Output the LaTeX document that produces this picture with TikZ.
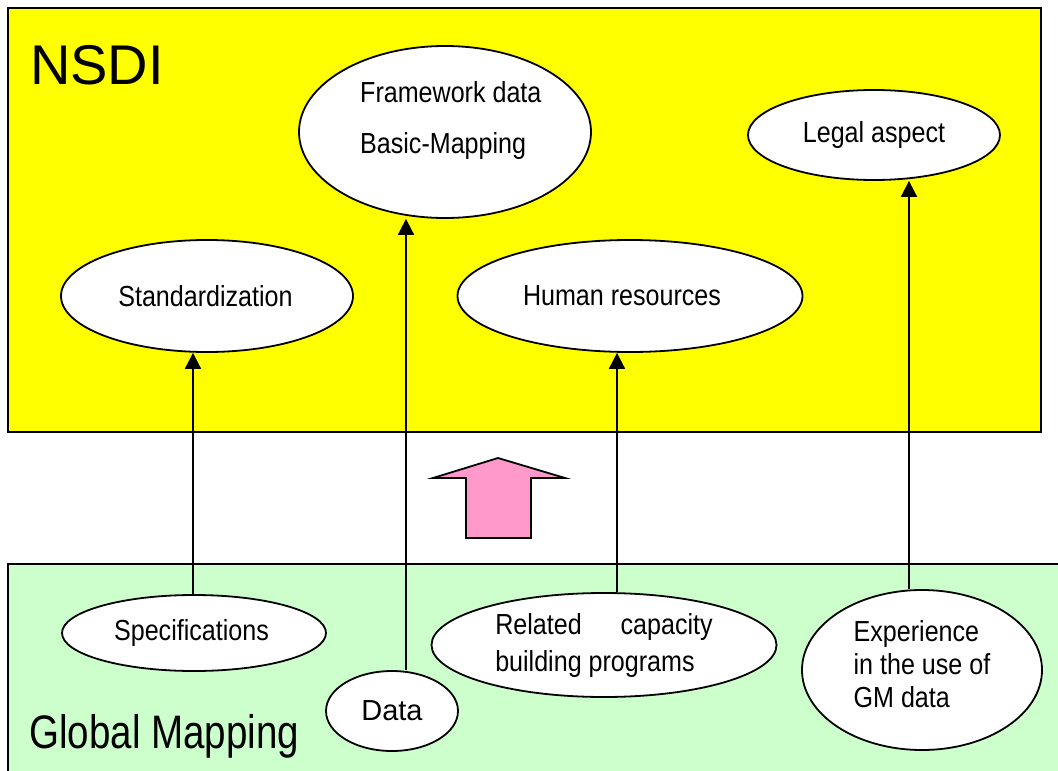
\documentclass[tikz,border=0pt]{standalone}
\usepackage{fontspec}
\setmainfont{Liberation Sans}
\newfontfamily\nar[FakeStretch=0.865]{Liberation Sans}
\newfontfamily\narr[FakeStretch=0.82]{Liberation Sans}
\usetikzlibrary{shapes.geometric,arrows.meta,calc}
\definecolor{nsdiyellow}{HTML}{FFFF00}
\definecolor{gmgreen}{HTML}{CCFFCC}
\definecolor{arrpink}{HTML}{FF99CC}
\begin{document}
\begin{tikzpicture}[x=1pt,y=-1pt,
  ell/.style={ellipse, draw, line width=1.8pt, fill=white, inner sep=0pt,
    font=\nar\fontsize{29}{35}\selectfont, align=left},
  txt/.style={inner sep=0pt, anchor=base west, font=\nar\fontsize{29}{35}\selectfont},
  up/.style={-{Triangle[length=16pt,width=16pt]}, line width=1.8pt},
  box/.style={draw, line width=2.5pt}]
\useasboundingbox (0,0) rectangle (1058,771);
\clip (0,0) rectangle (1058,771);
% panels
\path[box, fill=nsdiyellow] (8,8) rectangle (1041,432);
\path[box, fill=gmgreen] (8,564) rectangle (1075,790);
\node[font=\fontsize{56}{60}\selectfont, anchor=base west, inner sep=0pt] (nsdi) at (30,84) {NSDI};
\node[font=\narr\fontsize{47}{52}\selectfont, anchor=base west, inner sep=0pt] (gm) at (29,748) {Global Mapping};
% NSDI ellipses
\node[ell, minimum width=292pt, minimum height=172pt] (fw) at (445,132) {};
\node[txt] (fwa) at (360,102) {Framework data};
\node[txt] (fwb) at (360,153) {Basic-Mapping};
\node[ell, minimum width=252pt, minimum height=90pt] (legal) at (874,135) {Legal aspect};
\node[ell, minimum width=292pt, minimum height=112pt] (std) at (207,296) {Standardization\kern3pt};
\node[ell, minimum width=345pt, minimum height=112pt] (hum) at (630,296) {Human resources\kern16pt};
% Global mapping ellipses
\node[ell, minimum width=264pt, minimum height=76pt] (spec) at (194,633) {Specifications\kern5pt};
\node[ell, minimum width=132pt, minimum height=80pt, font=\fontsize{29}{35}\selectfont] (data) at (392,711) {Data};
\node[ell, minimum width=345pt, minimum height=104pt, font=\nar\fontsize{29}{37}\selectfont] (rel) at (604,645)
  {Related\hspace{39pt}capacity\\building programs};
\node[ell, minimum width=240pt, minimum height=160pt, font=\nar\fontsize{29}{33}\selectfont] (exp) at (922,670)
  {Experience\\in the use of\\GM data\rule[-12pt]{0pt}{12pt}};
% connectors
\draw[up] ([xshift=-1pt]spec.north) -- ([xshift=-1pt]spec.north |- std.south);
\draw[up] ([xshift=14pt]data.north) -- ([xshift=14pt]data.north |- fw.south);
\draw[up] ([xshift=13pt]rel.north) -- ([xshift=13pt]rel.north |- hum.south);
\draw[up] ([xshift=-13pt]exp.north) -- ([xshift=-13pt]exp.north |- legal.south);
% block arrow
\draw[line width=1.8pt, fill=arrpink, line join=miter]
  (498,458) -- (565,478) -- (531,478) -- (531,538) -- (466,538) -- (466,478) -- (433,478) -- cycle;
\end{tikzpicture}
\end{document}
